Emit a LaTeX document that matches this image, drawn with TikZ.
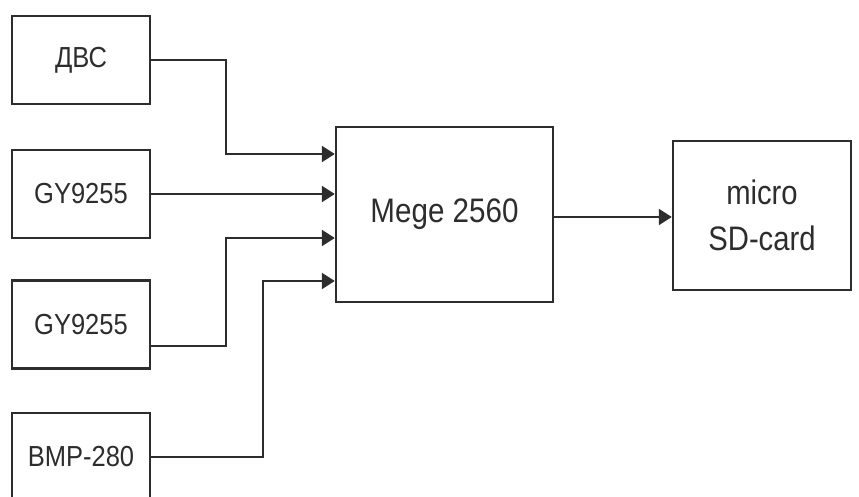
\documentclass[tikz,border=0pt]{standalone}
\usepackage{fontspec}
\setmainfont{Liberation Sans}
\usetikzlibrary{arrows.meta}
\definecolor{ln}{RGB}{45,45,45}
\definecolor{tx}{RGB}{45,45,45}
\begin{document}
\begin{tikzpicture}[x=1pt,y=-1pt,
  blk/.style={draw=ln,line width=2.4pt,rectangle,inner sep=0pt,text=tx,align=center},
  small/.style={blk,minimum width=138pt,minimum height=88pt,font=\fontsize{29}{34}\selectfont},
  con/.style={draw=ln,line width=2.2pt,-{Triangle[length=13pt,width=16pt]}}]
\useasboundingbox (0,0) rectangle (859,497);
\begin{scope}
\clip (0,0) rectangle (859,497);
\node[small] (dvs) at (81,60) {\scalebox{0.88}[1]{ДВС}};
\node[small] (gy1) at (81,194) {\scalebox{0.88}[1]{GY9255}};
\node[small] (gy2) at (81,324.5) {\scalebox{0.88}[1]{GY9255}};
\node[small] (bmp) at (81,457) {\scalebox{0.88}[1]{BMP-280}};
\node[blk,minimum width=217pt,minimum height=175pt,font=\fontsize{34}{40}\selectfont] (mega) at (444.5,214.5) {\scalebox{0.87}[1]{Mege 2560}};
\node[blk,minimum width=178pt,minimum height=149pt,font=\fontsize{34}{46}\selectfont] (sd) at (762,215.5) {\scalebox{0.86}[1]{micro}\\\scalebox{0.86}[1]{SD-card}};
\end{scope}
\coordinate (m1) at (mega.west |- 0,154);
\coordinate (m2) at (mega.west |- 0,194);
\coordinate (m3) at (mega.west |- 0,238);
\coordinate (m4) at (mega.west |- 0,281);
\draw[con] (dvs.east) -| (226,154) -- (m1);
\draw[con] (gy1.east) -- (m2);
\draw[con] (gy2.east |- 0,346) -| (226,238) -- (m3);
\draw[con] (bmp.east) -| (263,281) -- (m4);
\draw[con] (mega.east |- 0,217) -- (sd.west |- 0,217);
\end{tikzpicture}
\end{document}
